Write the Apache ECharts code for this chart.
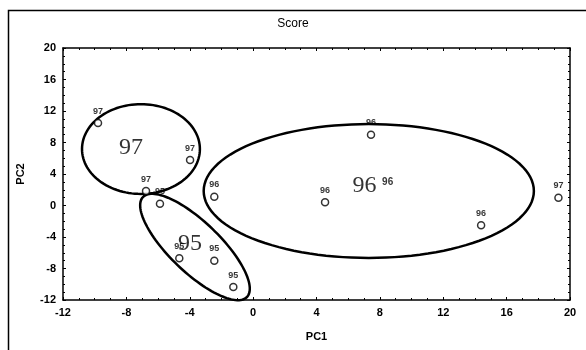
<!DOCTYPE html>
<html><head><meta charset="utf-8">
<script src="https://cdn.jsdelivr.net/npm/echarts@6/dist/echarts.min.js"></script>
<style>html,body{margin:0;padding:0;background:#fff}#c{width:586px;height:350px}</style>
</head><body><div id="c"></div>
<script>
// Sample scores (PC1, PC2) and their class labels
const pointX = [-9.79, -3.98, -6.76, -5.88, -2.45, 4.54, 7.44, 14.39, 19.27, -4.66, -2.45, -1.25];
const pointY = [10.48, 5.78, 1.84, 0.23, 1.12, 0.41, 8.99, -2.51, 0.99, -6.70, -7.01, -10.35];
const pointLabels = ['97','97','97','95','96','96','96','96','97','95','95','95'];
// label without visible marker
const extraX = [8.49];
const extraY = [1.46];
const extraLabels = ['96'];
// group labels
const groupX = [-7.71, -3.98, 7.03];
const groupY = [7.30, -4.89, 2.48];
const groupLabels = ['97', '95', '96'];
// group ellipses: centre and two conjugate half-axes in data units
const ellCX = [-7.08, 7.30, -3.67];
const ellCY = [7.17, 1.84, -5.27];
const ellUX = [3.72, 10.42, 3.28];
const ellUY = [0, 0, -6.35];
const ellVX = [0, 0, -1.10];
const ellVY = [5.7, 8.5, -2.30];
// axis ticks
const xMin = -12, xMax = 20, yMin = -12, yMax = 20, tickStep = 4;

const chart = echarts.init(document.getElementById('c'), null, {renderer: 'canvas'});
const axisFont = {fontFamily: 'Liberation Sans, Arial', fontWeight: 'bold', fontSize: 11, color: '#000'};
function xAx(pos, show) {
  return {
    type: 'value', position: pos, min: xMin, max: xMax, interval: tickStep,
    name: show ? 'PC1' : '', nameLocation: 'middle', nameGap: 31,
    nameTextStyle: {fontFamily: 'Liberation Sans, Arial', fontWeight: 'bold', fontSize: 11, color: '#000'},
    axisLine: {show: true, onZero: false, lineStyle: {color: '#000', width: 1.5}},
    axisTick: {show: true, inside: true, length: 3, lineStyle: {color: '#000'}},
    minorTick: {show: true, splitNumber: 4, length: 2, lineStyle: {color: '#000'}},
    axisLabel: Object.assign({show: show, margin: 7}, axisFont),
    splitLine: {show: false}
  };
}
function yAx(pos, show) {
  return {
    type: 'value', position: pos, min: yMin, max: yMax, interval: tickStep,
    name: show ? 'PC2' : '', nameLocation: 'middle', nameGap: 37,
    nameTextStyle: {fontFamily: 'Liberation Sans, Arial', fontWeight: 'bold', fontSize: 11, color: '#000'},
    axisLine: {show: true, onZero: false, lineStyle: {color: '#000', width: 1.5}},
    axisTick: {show: true, inside: true, length: 3, lineStyle: {color: '#000'}},
    minorTick: {show: true, splitNumber: 4, length: 2, lineStyle: {color: '#000'}},
    axisLabel: Object.assign({show: show, margin: 7}, axisFont),
    splitLine: {show: false}
  };
}

const pts = pointX.map((x, i) => [x, pointY[i], pointLabels[i]]);
const extra = extraX.map((x, i) => [x, extraY[i], extraLabels[i]]);
const groups = groupX.map((x, i) => [x, groupY[i], groupLabels[i]]);
const ells = ellCX.map((x, i) => [x, ellCY[i], ellUX[i], ellUY[i], ellVX[i], ellVY[i]]);

chart.setOption({
  animation: false,
  backgroundColor: '#fff',
  title: {text: 'Score', left: 'center', top: 13, textStyle: {fontFamily: 'Liberation Sans, Arial', fontWeight: 'normal', fontSize: 12, color: '#000'}},
  graphic: [{type: 'rect', shape: {x: 8.5, y: 10.5, width: 600, height: 360}, style: {fill: 'none', stroke: '#000', lineWidth: 1.5}, silent: true, z: -1}],
  grid: {left: 63, right: 16, top: 48, bottom: 50},
  xAxis: [xAx('bottom', true), xAx('top', false)],
  yAxis: [yAx('left', true), yAx('right', false)],
  series: [
    {
      type: 'custom', data: ells, silent: true, z: 3,
      renderItem: function (params, api) {
        const cx = api.value(0), cy = api.value(1), ux = api.value(2), uy = api.value(3), vx = api.value(4), vy = api.value(5);
        const p = [];
        for (let k = 0; k < 120; k++) {
          const t = k / 120 * Math.PI * 2;
          p.push(api.coord([cx + ux * Math.cos(t) + vx * Math.sin(t), cy + uy * Math.cos(t) + vy * Math.sin(t)]));
        }
        return {type: 'polygon', shape: {points: p}, style: {fill: 'none', stroke: '#000', lineWidth: 2.5}};
      }
    },
    {
      type: 'scatter', data: pts, symbol: 'circle', symbolSize: 7, z: 4,
      itemStyle: {color: '#fff', borderColor: '#000', borderWidth: 1.5},
      label: {show: true, position: 'top', distance: 3, formatter: p => p.data[2], fontFamily: 'Liberation Sans, Arial', fontWeight: 'bold', fontSize: 9, color: '#000'}
    },
    {
      type: 'scatter', data: extra, symbol: 'circle', symbolSize: 7, z: 4,
      itemStyle: {color: 'rgba(0,0,0,0)', borderWidth: 0},
      label: {show: true, position: 'top', distance: 3, formatter: p => p.data[2], fontFamily: 'Liberation Sans, Arial', fontWeight: 'bold', fontSize: 10, color: '#000'}
    },
    {
      type: 'scatter', data: groups, symbol: 'circle', symbolSize: 2, z: 5,
      itemStyle: {color: 'rgba(0,0,0,0)', borderWidth: 0},
      label: {show: true, position: 'inside', formatter: p => p.data[2], fontFamily: 'Liberation Serif, Times New Roman', fontSize: 24, color: '#000'}
    }
  ]
});
</script></body></html>
